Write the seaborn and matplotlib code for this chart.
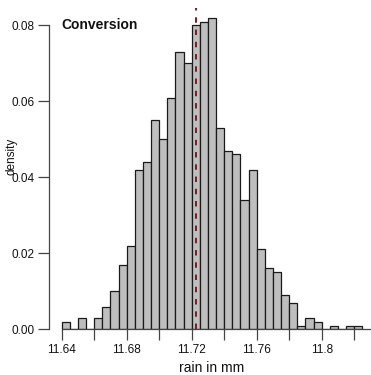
import numpy as np
import pandas as pd
import matplotlib
matplotlib.use("Agg")
import matplotlib.pyplot as plt
import seaborn as sns

# bin left edges (width 0.005) and proportions per bin
bin_left = [11.640, 11.645, 11.650, 11.655, 11.660, 11.665, 11.670, 11.675,
            11.680, 11.685, 11.690, 11.695, 11.700, 11.705, 11.710, 11.715,
            11.720, 11.725, 11.730, 11.735, 11.740, 11.745, 11.750, 11.755,
            11.760, 11.765, 11.770, 11.775, 11.780, 11.785, 11.790, 11.795,
            11.800, 11.805, 11.810, 11.815, 11.820]
density = [0.002, 0.000, 0.003, 0.000, 0.003, 0.006, 0.010, 0.017,
           0.022, 0.042, 0.044, 0.055, 0.050, 0.061, 0.073, 0.070,
           0.080, 0.081, 0.082, 0.053, 0.047, 0.046, 0.034, 0.042,
           0.021, 0.016, 0.015, 0.009, 0.007, 0.001, 0.003, 0.002,
           0.000, 0.001, 0.000, 0.001, 0.001]
bin_width = 0.005
mean_line = 11.7225

x_ticks = [11.64, 11.66, 11.68, 11.70, 11.72, 11.74, 11.76, 11.78, 11.80, 11.82]
x_tick_labels = ["11.64", "", "11.68", "", "11.72", "", "11.76", "", "11.8", ""]
y_ticks = [0.00, 0.02, 0.04, 0.06, 0.08]
y_tick_labels = ["0.00", "0.02", "0.04", "0.06", "0.08"]
title = "Conversion"
x_label = "rain in mm"
y_label = "density"

sns.set_style("white")
plt.rcParams['font.family'] = ['Liberation Sans', 'DejaVu Sans']

df = pd.DataFrame({"x": [b + bin_width / 2 for b in bin_left], "w": density})
edges = list(bin_left) + [bin_left[-1] + bin_width]

W, H = 371, 375
fig = plt.figure(figsize=(W / 100, H / 100), dpi=100)
left_px, right_px, top_px, bottom_px = 49.3, 370.0, 4.4, 329.3
aw, ah = right_px - left_px, bottom_px - top_px
ax = fig.add_axes([left_px / W, 1 - bottom_px / H, aw / W, ah / H])

sns.histplot(data=df, x="x", weights="w", bins=edges, stat="count",
             color="#BEBEBE", edgecolor="#1a1a1a", linewidth=0.9, alpha=1, ax=ax)
ax.axvline(mean_line, ymin=0, ymax=(bottom_px - 8) / ah, color="#7A1C1C",
           linestyle=(0, (2.8, 3.5)), linewidth=1.4, zorder=5)

ax.set_xlim(11.63237, 11.8297)
ax.set_ylim(0, 0.0855)
ax.set_xticks(x_ticks)
ax.set_xticklabels(x_tick_labels)
ax.set_yticks(y_ticks)
ax.set_yticklabels(y_tick_labels)
ax.tick_params(axis="both", direction="out", length=8, width=0.9, color="#444444",
               labelsize=8.5, pad=2.5, bottom=True, left=True, labelcolor="#111111")
for s in ["top", "right"]:
    ax.spines[s].set_visible(False)
ax.spines["left"].set_bounds(0, 0.08)
ax.spines["bottom"].set_bounds(11.64, 11.8297)
for s in ["left", "bottom"]:
    ax.spines[s].set_color("#444444")
    ax.spines[s].set_linewidth(0.9)

ax.set_xlabel(x_label, fontsize=10, color="#111111", va="center")
ax.xaxis.set_label_coords((211.3 - left_px) / aw, -(368 - bottom_px) / ah)
ax.set_ylabel(y_label, fontsize=8.5, color="#111111", va="center")
ax.yaxis.set_label_coords((11.7 - left_px) / aw, (bottom_px - 156) / ah)
ax.text(11.64, 0.08, title, fontsize=10, fontweight="bold", ha="left", va="center", color="#111111")

fig.savefig("out.png", dpi=100)
